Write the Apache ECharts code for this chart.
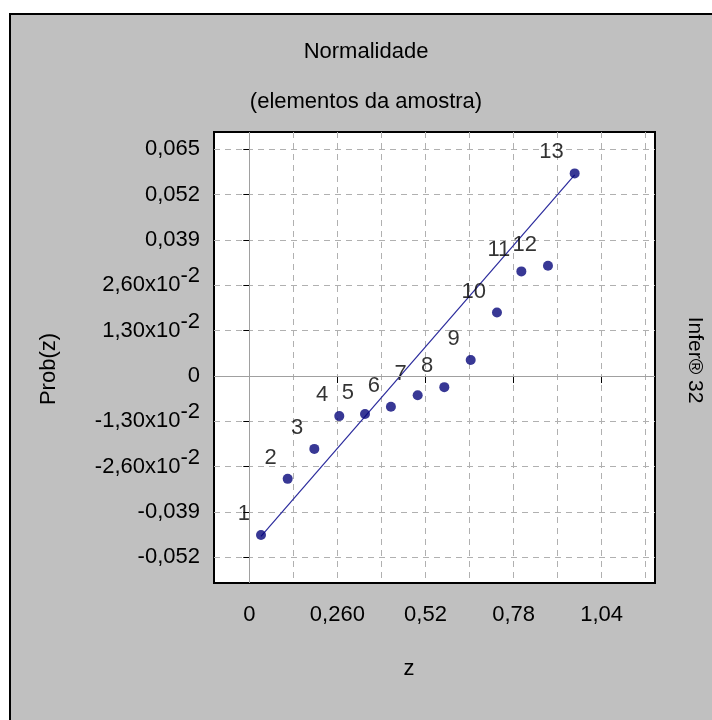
<!DOCTYPE html>
<html lang="pt">

<head>
    <meta charset="UTF-8">
    <title>Normalidade</title>
    <script src="https://cdn.jsdelivr.net/npm/echarts@6/dist/echarts.min.js"></script>
    <style>
        html, body { margin: 0; padding: 0; background: #fff; }
    </style>
</head>

<body>
    <div id="chart" style="width: 712px;height: 720px;"></div>
</body>
<script type="text/javascript">
    // pontos da amostra (z, Prob(z))
    var pointLabels = ['1', '2', '3', '4', '5', '6', '7', '8', '9', '10', '11', '12', '13'];
    var zValues = [0.0345, 0.1133, 0.1919, 0.2656, 0.3415, 0.418, 0.497, 0.5756, 0.6535, 0.731, 0.803, 0.8816, 0.9604];
    var probValues = [-0.0456, -0.0295, -0.0209, -0.0115, -0.0109, -0.0088, -0.0055, -0.0032, 0.0046, 0.0182, 0.0300, 0.0316, 0.0581];

    // reta ajustada
    var fitZ = [0.0345, 0.9604];
    var fitProb = [-0.0460, 0.0577];

    // eixos
    var xTicks = [0, 0.26, 0.52, 0.78, 1.04];
    var xTickLabels = ['0', '0,260', '0,52', '0,78', '1,04'];
    var xGridValues = [0, 0.13, 0.26, 0.39, 0.52, 0.65, 0.78, 0.91, 1.04, 1.17];
    var yTicks = [-0.052, -0.039, -0.026, -0.013, 0, 0.013, 0.026, 0.039, 0.052, 0.065];
    var yTickLabels = ['-0,052', '-0,039', '-2,60x10|-2', '-1,30x10|-2', '0', '1,30x10|-2', '2,60x10|-2', '0,039', '0,052', '0,065'];

    var font = "'Liberation Sans', Arial, sans-serif";
    var chart = echarts.init(document.getElementById('chart'));

    function nearest(list, v) {
        var best = 0;
        for (var i = 1; i < list.length; i++) {
            if (Math.abs(list[i] - v) < Math.abs(list[best] - v)) best = i;
        }
        return best;
    }

    var points = zValues.map(function (z, i) {
        return { value: [z, probValues[i]], name: pointLabels[i] };
    });
    var fitData = fitZ.map(function (z, i) { return [z, fitProb[i]]; });

    var option = {
        backgroundColor: '#c0c0c0',
        animation: false,
        textStyle: { fontFamily: font, color: '#000' },
        title: {
            text: 'Normalidade',
            subtext: '(elementos da amostra)',
            left: 361,
            top: 36,
            textAlign: 'center',
            itemGap: 28,
            textStyle: { fontFamily: font, fontSize: 22, fontWeight: 'normal', color: '#000' },
            subtextStyle: { fontFamily: font, fontSize: 22, color: '#000' }
        },
        grid: {
            left: 214, top: 132, right: 57, bottom: 137,
            show: true,
            backgroundColor: '#fff',
            borderColor: '#000',
            borderWidth: 2
        },
        xAxis: [
            {
                type: 'value',
                min: -0.1042, max: 1.1975,
                axisLine: { show: false },
                axisTick: { show: true, length: 7, lineStyle: { color: '#000' }, customValues: xTicks },
                axisLabel: {
                    customValues: xTicks,
                    margin: 21,
                    fontFamily: font, fontSize: 22, color: '#000',
                    formatter: function (v) { return xTickLabels[nearest(xTicks, v)]; }
                },
                splitLine: { show: false }
            },
            {
                type: 'value',
                min: -0.1042, max: 1.1975,
                position: 'bottom',
                axisLine: { show: false },
                axisTick: { show: false, customValues: xGridValues },
                axisLabel: { show: false },
                splitLine: { show: true, lineStyle: { color: '#b0b0b0', type: [6, 5], width: 1 } }
            }
        ],
        yAxis: {
            type: 'value',
            min: -0.05936, max: 0.06997,
            axisLine: { show: false },
            axisTick: { show: true, length: 6, lineStyle: { color: '#000' }, customValues: yTicks },
            axisLabel: {
                customValues: yTicks,
                margin: 14,
                fontFamily: font, fontSize: 22, color: '#000',
                formatter: function (v) {
                    var s = yTickLabels[nearest(yTicks, v)];
                    var parts = s.split('|');
                    if (parts.length === 1) return '{m|' + s + '}';
                    return '{m|' + parts[0] + '}{s|' + parts[1] + '}';
                },
                rich: {
                    m: { fontFamily: font, fontSize: 22, color: '#000' },
                    s: { fontFamily: font, fontSize: 22, color: '#000', padding: [0, 0, 18, 0] }
                }
            },
            splitLine: { show: true, lineStyle: { color: '#b0b0b0', type: [6, 5], width: 1 } }
        },
        graphic: [
            { type: 'rect', shape: { x: 0, y: 0, width: 712, height: 13 }, style: { fill: '#fff' }, silent: true },
            { type: 'rect', shape: { x: 0, y: 0, width: 9, height: 720 }, style: { fill: '#fff' }, silent: true },
            { type: 'polyline', shape: { points: [[10, 720], [10, 14], [712, 14]] }, style: { stroke: '#000', lineWidth: 2, fill: null }, silent: true },
            {
                type: 'text', x: 49, y: 369, rotation: Math.PI / 2,
                style: { text: 'Prob(z)', fontFamily: font, fontSize: 22, fill: '#000', align: 'center', verticalAlign: 'middle' }
            },
            {
                type: 'text', x: 409, y: 669,
                style: { text: 'z', fontFamily: font, fontSize: 22, fill: '#000', align: 'center', verticalAlign: 'middle' }
            },
            {
                type: 'text', x: 695, y: 360, rotation: -Math.PI / 2,
                style: { text: 'Infer® 32', fontFamily: font, fontSize: 21, fill: '#000', align: 'center', verticalAlign: 'middle' }
            }
        ],
        series: [
            {
                type: 'line',
                data: fitData,
                symbol: 'none',
                lineStyle: { color: '#2a2a9c', width: 1.2 },
                silent: true,
                z: 2,
                markLine: {
                    silent: true,
                    symbol: 'none',
                    label: { show: false },
                    lineStyle: { color: '#a0a0a0', type: 'solid', width: 1 },
                    data: [{ xAxis: 0 }, { yAxis: 0 }]
                }
            },
            {
                type: 'scatter',
                data: points,
                symbol: 'circle',
                symbolSize: 10,
                itemStyle: { color: '#06067a' },
                z: 3,
                label: {
                    show: true,
                    formatter: '{b}',
                    position: [-6, -16],
                    align: 'right',
                    verticalAlign: 'middle',
                    fontFamily: font, fontSize: 22, color: '#000'
                }
            }
        ]
    };

    chart.setOption(option);
</script>

</html>
